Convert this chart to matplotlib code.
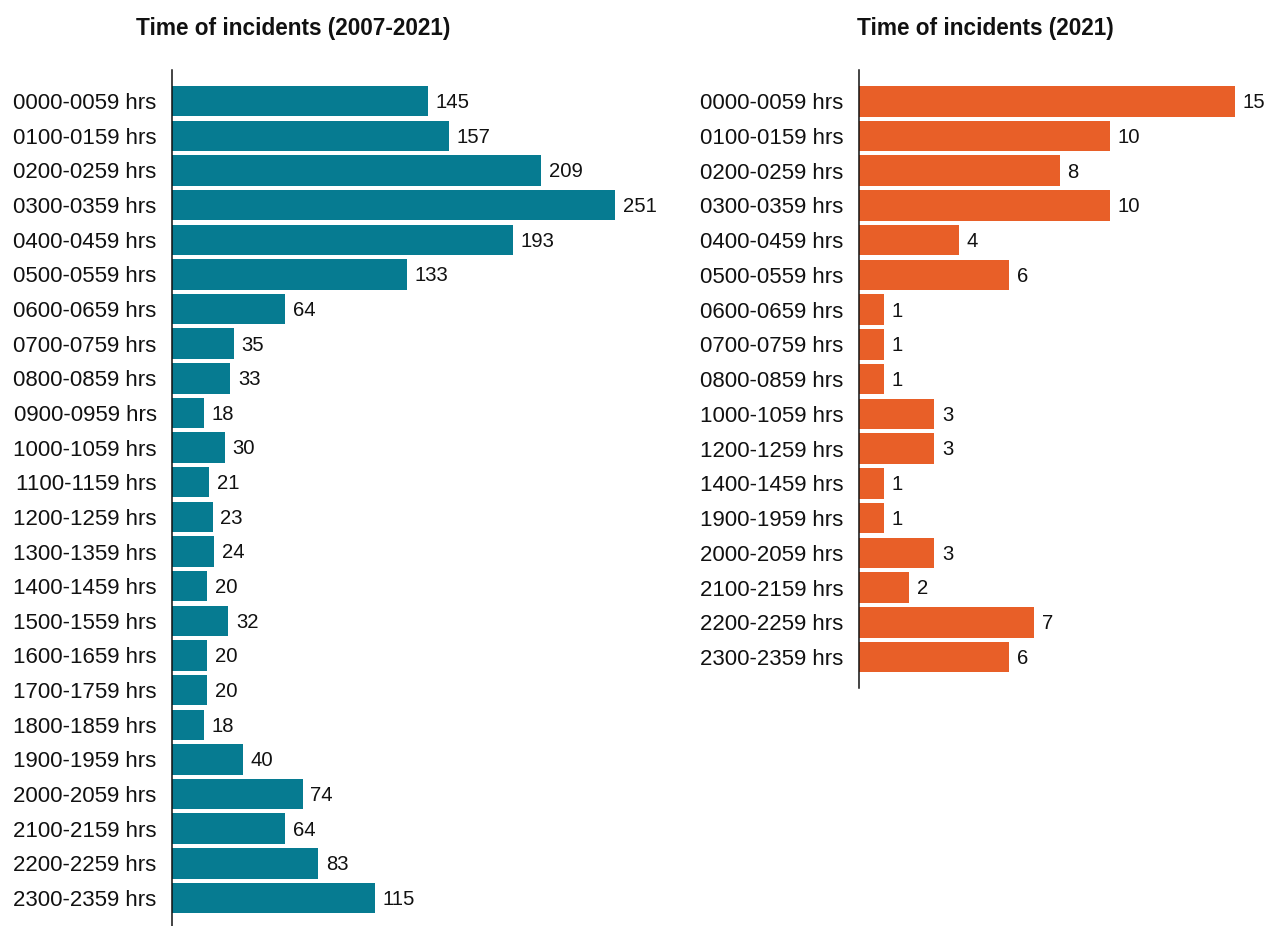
import matplotlib
matplotlib.use("Agg")
import matplotlib.pyplot as plt

plt.rcParams['font.family'] = ['Liberation Sans', 'DejaVu Sans']

# data
all_years_labels = ["0000-0059 hrs", "0100-0159 hrs", "0200-0259 hrs", "0300-0359 hrs",
                    "0400-0459 hrs", "0500-0559 hrs", "0600-0659 hrs", "0700-0759 hrs",
                    "0800-0859 hrs", "0900-0959 hrs", "1000-1059 hrs", "1100-1159 hrs",
                    "1200-1259 hrs", "1300-1359 hrs", "1400-1459 hrs", "1500-1559 hrs",
                    "1600-1659 hrs", "1700-1759 hrs", "1800-1859 hrs", "1900-1959 hrs",
                    "2000-2059 hrs", "2100-2159 hrs", "2200-2259 hrs", "2300-2359 hrs"]
all_years_counts = [145, 157, 209, 251, 193, 133, 64, 35, 33, 18, 30, 21,
                    23, 24, 20, 32, 20, 20, 18, 40, 74, 64, 83, 115]

y2021_labels = ["0000-0059 hrs", "0100-0159 hrs", "0200-0259 hrs", "0300-0359 hrs",
                "0400-0459 hrs", "0500-0559 hrs", "0600-0659 hrs", "0700-0759 hrs",
                "0800-0859 hrs", "1000-1059 hrs", "1200-1259 hrs", "1400-1459 hrs",
                "1900-1959 hrs", "2000-2059 hrs", "2100-2159 hrs", "2200-2259 hrs",
                "2300-2359 hrs"]
y2021_counts = [15, 10, 8, 10, 4, 6, 1, 1, 1, 3, 3, 1, 1, 3, 2, 7, 6]

TEAL = "#067B91"
ORANGE = "#E85F28"

W, H = 1264, 926
fig = plt.figure(figsize=(W / 100, H / 100), dpi=100)


def px_axes(left, top, right, bottom):
    # pixel box -> figure fraction
    return [left / W, 1 - bottom / H, (right - left) / W, (bottom - top) / H]


def draw_panel(ax, labels, counts, color, xmax):
    pos = list(range(len(labels)))
    ax.barh(pos, counts, height=0.88, color=color)
    for p, v in zip(pos, counts):
        ax.annotate(str(v), (v, p), xytext=(5.5, -1), textcoords="offset points",
                    va="center", ha="left", fontsize=14.6, color="#111111")
    ax.set_yticks(pos)
    ax.set_yticklabels(labels, fontsize=16, color="#111111")
    ax.set_ylim(len(labels) - 0.1, -0.9)
    ax.set_xlim(0, xmax)
    ax.set_xticks([])
    ax.tick_params(axis="y", length=0, pad=11)
    for s in ["top", "right", "bottom"]:
        ax.spines[s].set_visible(False)
    ax.spines["left"].set_linewidth(1.1)
    ax.spines["left"].set_color("#111111")


# left panel: pitch ~34.65 px per bar, 1.765 px per incident
ax1 = fig.add_axes(px_axes(172, 70, 172 + 260 * 1.765, 101 + 23.9 * 34.65))
draw_panel(ax1, all_years_labels, all_years_counts, TEAL, 260)

# right panel: pitch ~34.75 px per bar, 25.07 px per incident
ax2 = fig.add_axes(px_axes(859, 70, 859 + 15.6 * 25.07, 101 + 16.9 * 34.75))
draw_panel(ax2, y2021_labels, y2021_counts, ORANGE, 15.6)

fig.text(293 / W, 1 - 28 / H, "Time of incidents (2007-2021)", ha="center", va="center",
         fontsize=16.3, fontweight="bold", color="#111111")
fig.text(985 / W, 1 - 28 / H, "Time of incidents (2021)", ha="center", va="center",
         fontsize=16.3, fontweight="bold", color="#111111")

fig.savefig("out.png", dpi=100)
